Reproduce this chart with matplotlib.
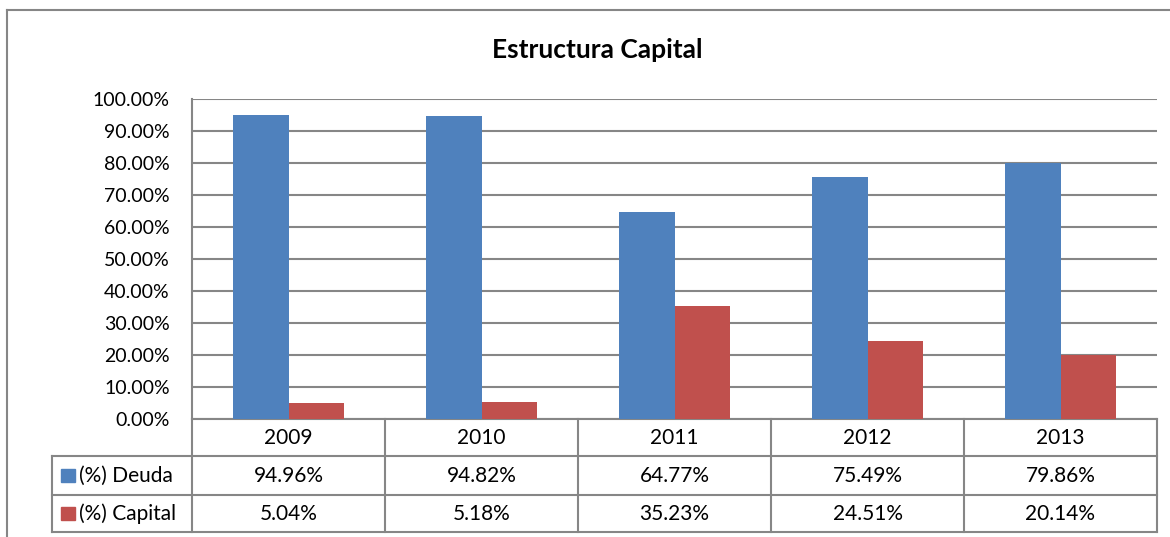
import numpy as np
import matplotlib.pyplot as plt
from matplotlib.patches import Rectangle
from matplotlib.lines import Line2D
import matplotlib.transforms as mtransforms

plt.rcParams["font.family"] = ["Lato", "DejaVu Sans"]

YEARS = ["2009", "2010", "2011", "2012", "2013"]
DEUDA = [94.96, 94.82, 64.77, 75.49, 79.86]
CAPITAL = [5.04, 5.18, 35.23, 24.51, 20.14]
SERIES = ["(%) Deuda", "(%) Capital"]
COLORS = ["#4F81BD", "#C0504D"]
GRID = "#868686"

W, H = 1170, 537
fig = plt.figure(figsize=(W / 100, H / 100), dpi=100)

# plot area in pixel coords
left, right, top, bottom = 192, 1157, 99, 419
ax = fig.add_axes([left / W, 1 - bottom / H, (right - left) / W, (bottom - top) / H])

x = np.arange(len(YEARS))
bw = 1 / 3.5
ax.bar(x - bw / 2, DEUDA, bw, color=COLORS[0], zorder=3)
ax.bar(x + bw / 2, CAPITAL, bw, color=COLORS[1], zorder=3)

ax.set_xlim(-0.5, len(YEARS) - 0.5)
ax.set_ylim(0, 100)
ax.set_yticks(np.arange(0, 101, 10))
ax.set_yticklabels([f"{v:.2f}%" for v in np.arange(0, 101, 10)], fontsize=14)
ax.tick_params(axis="y", length=0, pad=16)
ax.set_xticks([])
ax.yaxis.grid(True, color=GRID, linewidth=1.5, zorder=0)
for s in ["top", "right", "bottom"]:
    ax.spines[s].set_visible(False)
ax.spines["left"].set_color(GRID)
ax.spines["left"].set_linewidth(1.5)

# data table below the axes
ph = bottom - top
pw = right - left
def fy(py):
    return (bottom - py) / ph

fs = 15
row_h = [419, 456, 495, 532]
lab_left = (52 - left) / pw
tr = mtransforms.blended_transform_factory(ax.transData, ax.transAxes)
lk = dict(color=GRID, linewidth=1.5, clip_on=False)

# horizontal lines
ax.add_line(Line2D([0, 1], [fy(row_h[0])] * 2, transform=ax.transAxes, **lk))
for py in row_h[1:]:
    ax.add_line(Line2D([lab_left, 1], [fy(py)] * 2, transform=ax.transAxes, **lk))
# vertical lines
for b in np.arange(len(YEARS) + 1) - 0.5:
    ax.add_line(Line2D([b, b], [fy(row_h[0]), fy(row_h[-1])], transform=tr, **lk))
ax.add_line(Line2D([lab_left] * 2, [fy(row_h[1]), fy(row_h[-1])], transform=ax.transAxes, **lk))

for i, yr in enumerate(YEARS):
    ymid = fy((row_h[0] + row_h[1]) / 2)
    ax.text(i, ymid, yr, transform=tr, ha="center", va="center", fontsize=fs)
    for r, vals in enumerate([DEUDA, CAPITAL]):
        ymid = fy((row_h[r + 1] + row_h[r + 2]) / 2)
        ax.text(i, ymid, f"{vals[i]:.2f}%", transform=tr, ha="center", va="center", fontsize=fs)

for r, name in enumerate(SERIES):
    ymid = fy((row_h[r + 1] + row_h[r + 2]) / 2)
    ax.add_patch(Rectangle(((61 - left) / pw, ymid - 6.5 / ph), 14 / pw, 13 / ph,
                           transform=ax.transAxes, color=COLORS[r], clip_on=False))
    ax.text((79 - left) / pw, ymid, name, transform=ax.transAxes, ha="left", va="center", fontsize=fs)

fig.text(597 / W, 1 - 50 / H, "Estructura Capital", ha="center", va="center",
         fontsize=19, fontweight="bold")

# outer chart border (top and left visible)
fig.add_artist(Line2D([7 / W, 7 / W], [0, 1 - 10 / H], color=GRID, linewidth=1.5))
fig.add_artist(Line2D([7 / W, 1], [1 - 10 / H] * 2, color=GRID, linewidth=1.5))

fig.savefig("out.png", dpi=100)
